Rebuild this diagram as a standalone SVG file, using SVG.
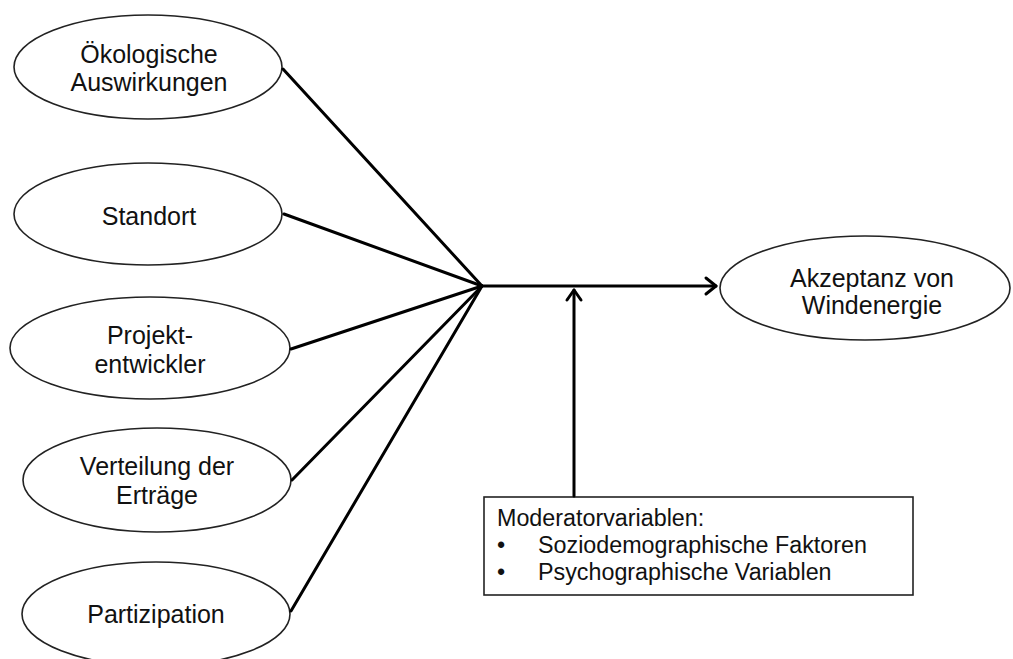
<svg xmlns="http://www.w3.org/2000/svg" width="1013" height="659" viewBox="0 0 1013 659">
<style>
.node{fill:#fff;stroke:#222;stroke-width:1.6}
.t{font-family:"Liberation Sans",Arial,sans-serif;font-size:25px;fill:#111;text-anchor:middle}
.t2{font-family:"Liberation Sans",Arial,sans-serif;font-size:23.3px;fill:#111}
.c{stroke:#000;stroke-width:3;fill:none;stroke-linecap:round;stroke-linejoin:round}
</style>
<rect width="1013" height="659" fill="#fff"/>
<g id="n1"><ellipse class="node" cx="148" cy="67" rx="134" ry="52"/>
<text class="t" x="149" y="63">Ökologische</text><text class="t" x="149" y="91">Auswirkungen</text></g>
<g id="n2"><ellipse class="node" cx="148" cy="214" rx="134" ry="51"/>
<text class="t" x="149" y="225">Standort</text></g>
<g id="n3"><ellipse class="node" cx="150" cy="348" rx="140" ry="51"/>
<text class="t" x="150" y="344">Projekt-</text><text class="t" x="150" y="373">entwickler</text></g>
<g id="n4"><ellipse class="node" cx="157" cy="480" rx="134" ry="52"/>
<text class="t" x="157" y="475">Verteilung der</text><text class="t" x="157" y="504">Erträge</text></g>
<g id="n5"><ellipse class="node" cx="156" cy="614" rx="134" ry="52"/>
<text class="t" x="156" y="623">Partizipation</text></g>
<g id="n6"><ellipse class="node" cx="865" cy="288" rx="145" ry="52"/>
<text class="t" x="872" y="287">Akzeptanz von</text><text class="t" x="872" y="314">Windenergie</text></g>
<g id="n7"><rect class="node" x="484" y="497" width="429" height="98"/>
<text class="t2" x="497" y="526">Moderatorvariablen:</text>
<text class="t2" x="497" y="553">•</text><text class="t2" x="538" y="553">Soziodemographische Faktoren</text>
<text class="t2" x="497" y="580">•</text><text class="t2" x="538" y="580">Psychographische Variablen</text></g>
<g id="connectors">
<path class="c" d="M283 69 L482 286"/>
<path class="c" d="M284 214 L482 286"/>
<path class="c" d="M291 349 L482 286"/>
<path class="c" d="M292 480 L482 286"/>
<path class="c" d="M291 611 L482 286"/>
<path class="c" d="M482 286 L716 286"/>
<path class="c" d="M706 278 L716 286 L706 294"/>
<path class="c" d="M574 496 L574 290"/>
<path class="c" d="M567 300 L574 290 L581 300"/>
</g>
</svg>
